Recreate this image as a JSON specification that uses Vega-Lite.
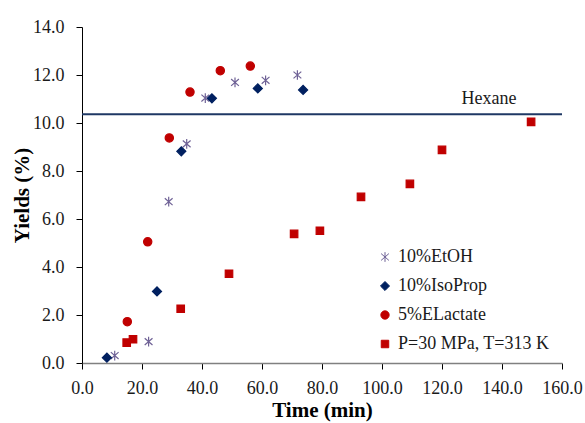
{
  "$schema": "https://vega.github.io/schema/vega-lite/v6.json",
  "width": 480,
  "height": 336,
  "autosize": {"type": "none"},
  "padding": {"left": 82, "top": 27, "right": 23, "bottom": 60},
  "config": {
    "view": {"stroke": null},
    "font": "Liberation Serif",
    "axis": {
      "grid": false,
      "labelFont": "Liberation Serif",
      "labelFontSize": 18,
      "labelColor": "#1a1a1a",
      "titleFont": "Liberation Serif",
      "titleFontSize": 21,
      "titleFontWeight": "bold",
      "titleColor": "#000000",
      "tickColor": "#000000",
      "tickSize": 6,
      "labelFlush": false,
      "labelOverlap": false
    }
  },
  "datasets": {
    "points": [
      {"series": "10%EtOH", "time": 10.9, "yield": 0.31},
      {"series": "10%EtOH", "time": 22.2, "yield": 0.89},
      {"series": "10%EtOH", "time": 28.9, "yield": 6.72},
      {"series": "10%EtOH", "time": 34.9, "yield": 9.13},
      {"series": "10%EtOH", "time": 41.1, "yield": 11.04},
      {"series": "10%EtOH", "time": 51.0, "yield": 11.69},
      {"series": "10%EtOH", "time": 61.2, "yield": 11.78},
      {"series": "10%EtOH", "time": 71.8, "yield": 12.0},
      {"series": "10%IsoProp", "time": 8.3, "yield": 0.22},
      {"series": "10%IsoProp", "time": 25.0, "yield": 2.98},
      {"series": "10%IsoProp", "time": 33.1, "yield": 8.82},
      {"series": "10%IsoProp", "time": 43.3, "yield": 11.03},
      {"series": "10%IsoProp", "time": 58.6, "yield": 11.44},
      {"series": "10%IsoProp", "time": 73.7, "yield": 11.38},
      {"series": "5%ELactate", "time": 15.1, "yield": 1.72},
      {"series": "5%ELactate", "time": 21.9, "yield": 5.05},
      {"series": "5%ELactate", "time": 29.1, "yield": 9.38},
      {"series": "5%ELactate", "time": 36.0, "yield": 11.29},
      {"series": "5%ELactate", "time": 46.1, "yield": 12.18},
      {"series": "5%ELactate", "time": 56.1, "yield": 12.37},
      {"series": "P=30 MPa, T=313 K", "time": 14.9, "yield": 0.85},
      {"series": "P=30 MPa, T=313 K", "time": 17.0, "yield": 0.99},
      {"series": "P=30 MPa, T=313 K", "time": 32.9, "yield": 2.26},
      {"series": "P=30 MPa, T=313 K", "time": 49.0, "yield": 3.72},
      {"series": "P=30 MPa, T=313 K", "time": 70.7, "yield": 5.38},
      {"series": "P=30 MPa, T=313 K", "time": 79.3, "yield": 5.51},
      {"series": "P=30 MPa, T=313 K", "time": 93.0, "yield": 6.92},
      {"series": "P=30 MPa, T=313 K", "time": 109.3, "yield": 7.46},
      {"series": "P=30 MPa, T=313 K", "time": 120.0, "yield": 8.88},
      {"series": "P=30 MPa, T=313 K", "time": 149.7, "yield": 10.05}
    ],
    "hexane": [{"time": 135.7, "yield": 10.36, "label": "Hexane"}]
  },
  "layer": [
    {
      "data": {"name": "hexane"},
      "mark": {"type": "rule", "color": "#1F3864", "strokeWidth": 2},
      "encoding": {
        "y": {"field": "yield", "type": "quantitative"}
      }
    },
    {
      "data": {"name": "hexane"},
      "mark": {"type": "text", "align": "center", "baseline": "alphabetic", "dy": -10, "fontSize": 18, "font": "Liberation Serif", "color": "#1a1a1a"},
      "encoding": {
        "x": {"field": "time", "type": "quantitative"},
        "y": {"field": "yield", "type": "quantitative"},
        "text": {"field": "label"}
      }
    },
    {
      "data": {"name": "points"},
      "mark": {"type": "point", "filled": true, "opacity": 1, "strokeWidth": 1.2},
      "encoding": {
        "x": {
          "field": "time", "type": "quantitative",
          "scale": {"domain": [0, 160], "nice": false, "zero": false},
          "axis": {
            "title": "Time (min)",
            "values": [0,10,20,30,40,50,60,70,80,90,100,110,120,130,140,150,160],
            "labelExpr": "datum.value % 20 === 0 ? format(datum.value, '.1f') : ''",
            "domainColor": "#808080",
            "domainWidth": 1.5,
            "labelPadding": 10,
            "titlePadding": 2
          }
        },
        "y": {
          "field": "yield", "type": "quantitative",
          "scale": {"domain": [0, 14], "nice": false},
          "axis": {
            "title": "Yields (%)",
            "values": [0,1,2,3,4,5,6,7,8,9,10,11,12,13,14],
            "labelExpr": "datum.value % 2 === 0 ? format(datum.value, '.1f') : ''",
            "domainColor": "#000000",
            "labelPadding": 12,
            "titlePadding": 0
          }
        },
        "color": {
          "field": "series", "type": "nominal",
          "scale": {
            "domain": ["10%EtOH", "10%IsoProp", "5%ELactate", "P=30 MPa, T=313 K"],
            "range": ["#6F6296", "#002060", "#C00000", "#C00000"]
          },
          "legend": {
            "title": null,
            "orient": "none",
            "legendX": 294,
            "legendY": 221,
            "labelFontSize": 18,
            "labelFont": "Liberation Serif",
            "labelColor": "#1a1a1a",
            "symbolSize": 45,
            "symbolStrokeWidth": 1,
            "rowPadding": 11,
            "labelOffset": 4,
            "padding": 0
          }
        },
        "stroke": {
          "field": "series", "type": "nominal",
          "scale": {
            "domain": ["10%EtOH", "10%IsoProp", "5%ELactate", "P=30 MPa, T=313 K"],
            "range": ["#6F6296", "#002060", "#C00000", "#C00000"]
          },
          "legend": {
            "title": null,
            "orient": "none",
            "legendX": 294,
            "legendY": 221,
            "labelFontSize": 18,
            "labelFont": "Liberation Serif",
            "labelColor": "#1a1a1a",
            "symbolSize": 45,
            "symbolStrokeWidth": 1,
            "rowPadding": 11,
            "labelOffset": 4,
            "padding": 0
          }
        },
        "shape": {
          "field": "series", "type": "nominal",
          "scale": {
            "domain": ["10%EtOH", "10%IsoProp", "5%ELactate", "P=30 MPa, T=313 K"],
            "range": ["M-0.8,-0.7L0.8,0.7M-0.8,0.7L0.8,-0.7M0,-1L0,1", "diamond", "circle", "square"]
          },
          "legend": {
            "title": null,
            "orient": "none",
            "legendX": 294,
            "legendY": 221,
            "labelFontSize": 18,
            "labelFont": "Liberation Serif",
            "labelColor": "#1a1a1a",
            "symbolSize": 45,
            "symbolStrokeWidth": 1,
            "rowPadding": 11,
            "labelOffset": 4,
            "padding": 0
          }
        },
        "size": {
          "field": "series", "type": "nominal",
          "scale": {
            "domain": ["10%EtOH", "10%IsoProp", "5%ELactate", "P=30 MPa, T=313 K"],
            "range": [95, 56, 64, 64]
          },
          "legend": null
        }
      }
    }
  ]
}
